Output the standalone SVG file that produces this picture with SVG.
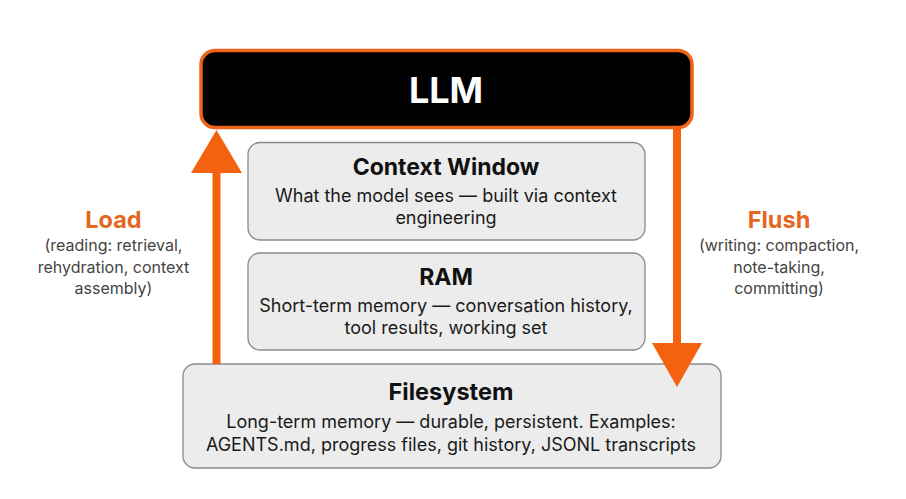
<svg xmlns="http://www.w3.org/2000/svg" width="906" height="499" viewBox="0 0 906 499">
<style>
.box{fill:#ececec;stroke:#8a8a8a;stroke-width:1.3}
.title{font-family:Inter,"Liberation Sans",sans-serif;font-weight:700;fill:#111;text-anchor:middle}
.body{font-family:Inter,"Liberation Sans",sans-serif;font-size:18px;fill:#1a1a1a;text-anchor:middle}
.lbl{font-family:Inter,"Liberation Sans",sans-serif;font-weight:700;font-size:23.5px;fill:#E5661F;text-anchor:middle}
.sub{font-family:Inter,"Liberation Sans",sans-serif;font-size:16px;fill:#444;text-anchor:middle}
.arr{fill:#F5620F}
</style>
<rect width="906" height="499" fill="#ffffff"/>
<g id="llm">
<rect x="201" y="50.5" width="491" height="77" rx="14" fill="#000" stroke="#EE6418" stroke-width="3.5"/>
<text x="446" y="103" class="title" style="font-size:36px;fill:#fff">LLM</text>
</g>
<g id="context-window">
<rect class="box" x="248" y="142.5" width="397" height="97.5" rx="12"/>
<text x="446" y="175" class="title" font-size="23">Context Window</text>
<text x="446" y="202" class="body">What the model sees — built via context</text>
<text x="446" y="224" class="body">engineering</text>
</g>
<g id="ram">
<rect class="box" x="248" y="253" width="397" height="97" rx="12"/>
<text x="446" y="285" class="title" font-size="23">RAM</text>
<text x="446" y="312" class="body">Short-term memory — conversation history,</text>
<text x="446" y="334" class="body">tool results, working set</text>
</g>
<g id="filesystem">
<rect class="box" x="183" y="364" width="538" height="104" rx="12"/>
<text x="451" y="400" class="title" font-size="23.5">Filesystem</text>
<text x="451" y="428" class="body">Long-term memory — durable, persistent. Examples:</text>
<text x="451" y="451" class="body">AGENTS.md, progress files, git history, JSONL transcripts</text>
</g>
<g id="connectors">
<g id="load-arrow">
<rect class="arr" x="212.5" y="170" width="8" height="194"/>
<polygon class="arr" points="216.5,130 242,173 191,173"/>
</g>
<g id="flush-arrow">
<rect class="arr" x="673" y="128" width="8" height="217"/>
<polygon class="arr" points="652,343 702,343 677,387"/>
</g>
</g>
<g id="load-label">
<text x="113.5" y="228" class="lbl">Load</text>
<text x="113.5" y="251" class="sub">(reading: retrieval,</text>
<text x="113.5" y="273" class="sub">rehydration, context</text>
<text x="113.5" y="294" class="sub">assembly)</text>
</g>
<g id="flush-label">
<text x="779" y="228" class="lbl">Flush</text>
<text x="779" y="251" class="sub">(writing: compaction,</text>
<text x="779" y="273" class="sub">note-taking,</text>
<text x="779" y="294" class="sub">committing)</text>
</g>
</svg>
